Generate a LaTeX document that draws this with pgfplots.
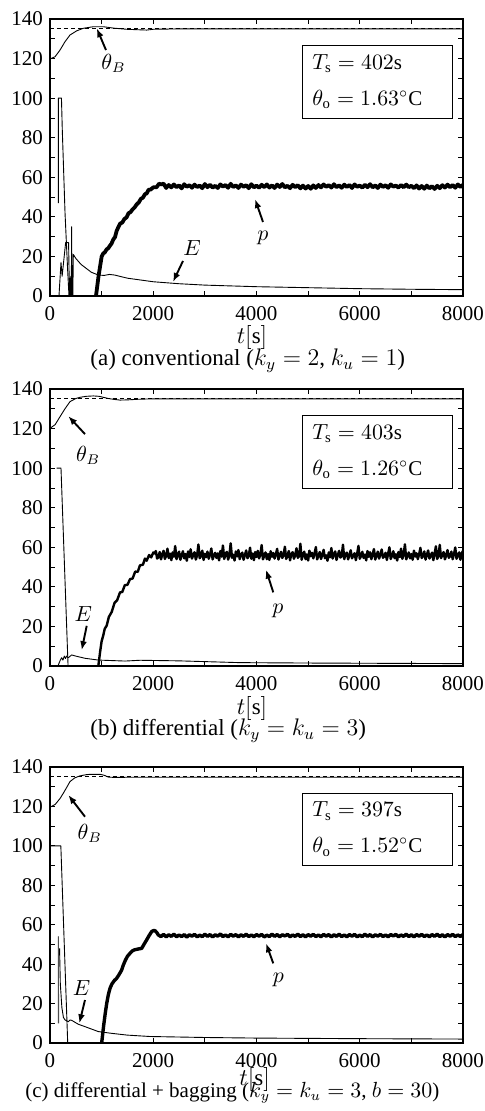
\documentclass[border=0pt]{standalone}
\usepackage{pgfplots}
\pgfplotsset{compat=1.18}
\usepackage{fontspec}
\setmainfont{Liberation Serif}
\usetikzlibrary{arrows.meta}
\newcommand{\fs}{\fontsize{10.5}{12.5}\selectfont}
\newcommand{\fc}{\fontsize{11.5}{13.5}\selectfont}
\pgfplotsset{panel/.style={
  scale only axis, width=206.5pt, height=138.5pt,
  xmin=0, xmax=8000, ymin=0, ymax=140,
  xtick={0,2000,4000,6000,8000}, ytick={0,20,...,140},
  minor x tick num=1, minor y tick num=1,
  tick align=inside, xtick pos=both, ytick pos=both,
  major tick length=2.5pt, minor tick length=2.5pt,
  axis line style={line width=1pt},
  tick style={line width=0.4pt, black},
  every tick label/.append style={font=\fs},
  /pgf/number format/assume math mode=true,
  /pgf/number format/1000 sep={},
  scaled x ticks=false,
  xticklabel style={yshift=-1.5pt},
  every axis plot/.append style={line join=round},
}}
\tikzset{
thin curve/.style={black, line width=0.45pt},
pcurve/.style={black, line width=1.9pt},
ref/.style={black, line width=0.45pt, dash pattern=on 2pt off 1.5pt},
ann/.style={line width=0.95pt, -{Latex[length=4.5pt,width=3.4pt]}},
}
\begin{document}
\begin{tikzpicture}
\path[use as bounding box] (0,0) rectangle (242pt,-555.5pt);

% ---------------- panel (a)
\begin{axis}[panel, at={(25pt,-148pt)}, anchor=south west]
\addplot[ref] coordinates {(0,135) (8000,135)};
\addplot[thin curve] coordinates {(0,119.8) (97,120.9) (194,124.3) (290,128.5) (387,131.9) (516,134) (645,135.3) (839,136.1) (1033,136.1) (1226,135.4) (1485,134.8) (1872,134.4) (2002,134.8) (2500,135) (8000,135)};
\addplot[thin curve] coordinates {(161,47) (161,100) (222,100) (238,84) (291,42) (342,13) (368,0) (8000,0)};
\addplot[thin curve] coordinates {(174,0) (213,17) (235,10) (303,27) (360,27) (372,8) (380,0) (388,9) (396,0) (404,10) (412,0) (420,35) (426,0) (434,9) (442,0) (452,21) (500,19) (600,16) (700,14) (800,12) (936,10.6) (1050,10.4) (1150,10.9) (1250,10.6) (1500,9) (2000,7.2) (2500,6.2) (3000,5.5) (4000,4.7) (5000,4.2) (6000,3.7) (7000,3.4) (8000,3.2)};
\addplot[pcurve] coordinates {(891,0) (940,10) (1001,20) (1030,21.5) (1060,22) (1098,23.6) (1130,24.2) (1160,25.4) (1190,26.4) (1227,28.6) (1260,29.8) (1290,32.8) (1324,34.8) (1360,36.6) (1400,37.1) (1440,38.9) (1485,39.8) (1520,41.8) (1560,42.4) (1600,43.8) (1640,44.8) (1679,46.3) (1720,47.3) (1760,49.1) (1800,49.7) (1840,51.5) (1873,51.8) (1910,53.7) (1950,53.8) (2000,54.9) (2066,55.0) (2110,56.7) (2160,56.4)
(2200,56.8) (2250,54.6) (2300,56.1) (2350,54.9) (2400,56.4) (2450,55.0) (2500,55.9) (2550,54.4) (2600,56.5) (2650,55.2) (2700,56.0) (2750,54.7) (2800,56.3) (2850,55.1) (2900,55.8) (2950,54.5) (3000,56.6) (3050,55.0) (3100,56.2) (3150,54.8) (3200,55.7) (3250,54.6) (3300,56.4) (3350,55.3) (3400,56.1) (3450,54.7) (3500,56.7) (3550,55.1) (3600,55.9) (3650,54.6) (3700,56.3) (3750,55.2) (3800,56.0) (3850,54.5) (3900,56.5) (3950,54.9) (4000,55.8) (4050,54.7) (4100,56.2) (4150,55.0) (4200,56.4) (4250,54.8) (4300,55.9) (4350,54.6) (4400,56.3) (4450,55.1) (4500,56.6) (4550,54.9) (4600,55.7) (4650,54.5) (4700,56.2) (4750,55.0) (4800,56.0) (4850,54.4) (4900,55.8) (4950,54.3) (5000,55.6) (5050,54.2) (5100,55.9) (5150,54.6) (5200,56.1) (5250,54.9) (5300,56.4) (5350,55.2) (5400,56.0) (5450,54.8) (5500,56.5) (5550,55.0) (5600,55.9) (5650,54.7) (5700,56.3) (5750,55.1) (5800,56.1) (5850,54.6) (5900,56.4) (5950,55.2) (6000,55.8) (6050,54.8) (6100,56.2) (6150,55.0) (6200,56.5) (6250,54.9) (6300,55.9) (6350,54.6) (6400,56.3) (6450,55.1) (6500,56.0) (6550,54.7) (6600,56.4) (6650,55.3) (6700,55.8) (6750,54.8) (6800,56.1) (6850,54.9) (6900,56.3) (6950,55.0) (7000,55.7) (7050,54.5) (7100,55.9) (7150,54.3) (7200,55.6) (7250,54.2) (7300,55.8) (7350,54.4) (7400,55.5) (7450,54.1) (7500,55.7) (7550,54.5) (7600,56.0) (7650,54.8) (7700,56.3) (7750,55.0) (7800,56.1) (7850,54.7) (7900,56.4) (7950,55.1) (8000,56.2)};
\draw[ann] (axis cs:1085,124.3) -- (axis cs:905,135.3);
\node[font=\fs] at (axis cs:1230,117.7) {$\theta_B$};
\draw[ann] (axis cs:2576,17.7) -- (axis cs:2383,7.1);
\node[font=\fs] at (axis cs:2750,24.3) {$E$};
\draw[ann] (axis cs:4126,37.4) -- (axis cs:3971,49);
\node[font=\fs] at (axis cs:4126,29.3) {$p$};
\draw[line width=0.5pt] (axis cs:4900,126.8) rectangle (axis cs:7787,89.9);
\node[font=\fs, anchor=west, inner sep=0pt] at (axis cs:5075,117.6) {$T_{\mathrm{s}} = 402\mathrm{s}$};
\node[font=\fs, anchor=west, inner sep=0pt] at (axis cs:5075,99.5) {$\theta_{\mathrm{o}} = 1.63^\circ\mathrm{C}$};
\end{axis}
\node[font=\fc] at (126pt,-169pt) {$t[\mathrm{s}]$};
\node[font=\fc, anchor=west, inner sep=0pt] at (45pt,-180.5pt) {(a) conventional ($k_y = 2$, $k_u = 1$)};

% ---------------- panel (b)
\begin{axis}[panel, at={(25pt,-333pt)}, anchor=south west]
\addplot[ref] coordinates {(0,135) (8000,135)};
\addplot[thin curve] coordinates {(0,120.1) (100,122) (194,126) (290,130) (387,133.6) (500,135.2) (581,135.8) (700,136.3) (839,136.5) (950,136.3) (1033,135.8) (1130,135.2) (1226,134.8) (1356,134.4) (1500,134.5) (1700,134.8) (1937,135) (8000,135)};
\addplot[thin curve] coordinates {(130,100) (213,100) (350,0) (8000,0)};
\addplot[thin curve] coordinates {(161,0.5) (200,3) (226,4.2) (250,3.0) (278,5.0) (300,3.8) (323,5.0) (355,4.2) (420,5.6) (500,5.0) (678,3.9) (936,3.0) (1453,2.5) (1743,2.9) (2500,2.6) (3680,1.7) (5000,1.5) (8000,1.2)};
\addplot[pcurve, line width=1.2pt] coordinates {(936,0) (970,7) (1000,12.5) (1033,15.6) (1060,18.8) (1098,20.4) (1140,24.8) (1195,27.3) (1250,31.9) (1300,33.2) (1356,37.2) (1400,37.4) (1450,40.9) (1500,41.0) (1550,43.9) (1600,44.2) (1650,47.7) (1700,47.6) (1743,50.9) (1800,51.2) (1840,54.3) (1872,53.2) (1920,56.1) (1960,54.9) (2002,57.4)
(2025,56.9) (2050,58.1) (2075,54.3) (2100,55.0) (2125,57.6) (2150,53.9) (2175,56.4) (2200,58.2) (2225,54.1) (2250,55.7) (2275,59.3) (2300,54.6) (2325,56.8) (2350,53.5) (2375,57.4) (2400,55.2) (2425,60.6) (2450,54.0) (2475,56.1) (2500,57.8) (2525,53.7) (2550,55.9) (2575,58.0) (2600,54.4) (2625,56.6) (2650,53.2) (2675,57.9) (2700,55.1) (2725,59.0) (2750,54.3) (2775,56.2) (2800,57.5) (2825,53.8) (2850,56.0) (2875,61.4) (2900,54.5) (2925,55.6) (2950,58.3) (2975,53.6) (3000,56.7) (3025,55.0) (3050,57.8) (3075,54.2) (3100,56.3) (3125,59.4) (3150,53.9) (3175,55.8) (3200,57.2) (3225,54.6) (3250,56.9) (3275,53.4) (3300,58.1) (3325,55.3) (3350,60.9) (3375,54.1) (3400,56.5) (3425,57.7) (3450,53.8) (3475,55.9) (3500,62.0) (3525,54.7) (3550,56.2) (3575,53.3) (3600,57.9) (3625,55.4) (3650,58.6) (3675,54.0) (3700,56.4) (3725,57.3) (3750,53.7) (3775,56.0) (3800,58.4) (3825,54.5) (3850,55.7) (3875,59.8) (3900,54.2) (3925,56.8) (3950,53.5) (3975,57.6) (4000,55.1) (4025,58.2) (4050,54.4) (4075,56.3) (4100,61.1) (4125,53.9) (4150,55.8) (4175,57.4) (4200,54.0) (4225,56.6) (4250,53.6) (4275,58.0) (4300,55.2) (4325,57.1) (4350,54.3) (4375,56.5) (4400,59.2) (4425,53.8) (4450,55.9) (4475,57.7) (4500,54.6) (4525,56.1) (4550,60.3) (4575,54.1) (4600,55.6) (4625,58.1) (4650,53.4) (4675,56.7) (4700,57.5) (4725,54.2) (4750,56.0) (4775,59.5) (4800,54.7) (4825,55.4) (4850,61.8) (4875,53.7) (4900,56.3) (4925,57.8) (4950,54.0) (4975,56.4) (5000,53.3) (5025,58.3) (5050,55.5) (5075,57.2) (5100,54.4) (5125,56.9) (5150,60.1) (5175,53.9) (5200,55.7) (5225,57.6) (5250,54.1) (5275,56.2) (5300,58.7) (5325,54.5) (5350,55.9) (5375,53.2) (5400,57.4) (5425,55.0) (5450,59.6) (5475,54.3) (5500,56.5) (5525,57.9) (5550,53.6) (5575,56.1) (5600,58.2) (5625,54.8) (5650,55.5) (5675,61.3) (5700,54.0) (5725,56.6) (5750,57.3) (5775,53.9) (5800,56.0) (5825,58.5) (5850,54.4) (5875,55.8) (5900,57.0) (5925,53.5) (5950,56.7) (5975,60.7) (6000,54.2) (6025,55.6) (6050,57.7) (6075,54.6) (6100,56.3) (6125,53.4) (6150,58.1) (6175,55.2) (6200,57.5) (6225,54.0) (6250,56.4) (6275,59.1) (6300,53.8) (6325,55.9) (6350,57.8) (6375,54.3) (6400,56.2) (6425,58.9) (6450,54.7) (6475,55.4) (6500,57.2) (6525,53.6) (6550,56.8) (6575,60.0) (6600,54.1) (6625,55.7) (6650,58.0) (6675,54.5) (6700,56.5) (6725,53.3) (6750,57.6) (6775,55.1) (6800,59.3) (6825,54.2) (6850,56.1) (6875,61.5) (6900,53.9) (6925,55.8) (6950,57.4) (6975,54.4) (7000,56.6) (7025,53.7) (7050,58.3) (7075,55.3) (7100,57.0) (7125,54.0) (7150,56.4) (7175,59.7) (7200,54.6) (7225,55.5) (7250,57.9) (7275,53.8) (7300,56.2) (7325,58.4) (7350,54.3) (7375,55.9) (7400,57.3) (7425,53.5) (7450,56.7) (7475,60.5) (7500,54.1) (7525,55.6) (7550,61.2) (7575,54.5) (7600,56.3) (7625,57.6) (7650,53.9) (7675,56.0) (7700,58.6) (7725,54.7) (7750,55.4) (7775,57.8) (7800,54.0) (7825,56.5) (7850,59.9) (7875,54.2) (7900,55.8) (7925,57.4) (7950,53.7) (7975,56.9) (8000,58.2)};
\draw[ann] (axis cs:678,117.2) -- (axis cs:354,126.3);
\node[font=\fs] at (axis cs:740,106.5) {$\theta_B$};
\draw[ann] (axis cs:711,20.3) -- (axis cs:614,8);
\node[font=\fs] at (axis cs:645,26.2) {$E$};
\draw[ann] (axis cs:4325,37.2) -- (axis cs:4184,48.7);
\node[font=\fs] at (axis cs:4416,27.9) {$p$};
\draw[line width=0.5pt] (axis cs:4900,126.8) rectangle (axis cs:7787,89.9);
\node[font=\fs, anchor=west, inner sep=0pt] at (axis cs:5075,117.6) {$T_{\mathrm{s}} = 403\mathrm{s}$};
\node[font=\fs, anchor=west, inner sep=0pt] at (axis cs:5075,99.5) {$\theta_{\mathrm{o}} = 1.26^\circ\mathrm{C}$};
\end{axis}
\node[font=\fc] at (126pt,-354pt) {$t[\mathrm{s}]$};
\node[font=\fc, anchor=west, inner sep=0pt] at (45pt,-365.5pt) {(b) differential ($k_y = k_u = 3$)};

% ---------------- panel (c)
\begin{axis}[panel, height=138pt, at={(25pt,-521.5pt)}, anchor=south west]
\addplot[ref] coordinates {(0,135) (8000,135)};
\addplot[thin curve] coordinates {(0,119.6) (100,121) (194,124) (258,126.7) (320,129.5) (387,132.6) (480,134.5) (581,135.5) (700,136.1) (775,136.3) (968,136.3) (1050,135.8) (1130,134.9) (1250,134.7) (1500,134.8) (8000,134.8)};
\addplot[thin curve] coordinates {(0,100) (210,100) (343,0) (8000,0)};
\addplot[thin curve, black!70] coordinates {(161,10) (161,54) (168,10)};
\addplot[thin curve] coordinates {(185,48) (200,30) (230,18) (260,13) (291,11.7) (355,10.8) (387,11.7) (420,11.5) (550,9.5) (678,8.3) (936,5.8) (1195,4.9) (1500,4.0) (1937,3.3) (3000,2.8) (4000,2.5) (6000,2.2) (8000,2.0)};
\addplot[pcurve, line width=1.7pt] coordinates {(1001,0) (1040,9) (1070,15) (1098,20) (1130,24.5) (1162,27.7) (1200,30) (1250,31.8) (1291,32.8) (1340,34.8) (1388,37) (1420,39.5) (1460,42) (1500,44) (1550,45.5) (1600,46.8) (1640,47.3) (1679,47.5) (1730,47.8) (1776,48) (1820,50) (1872,52.3) (1920,54.5) (1969,56.5) (2000,57) (2034,57) (2070,56) (2098,54.8)
(2150,54.0) (2200,55.1) (2250,53.8) (2300,54.9) (2350,54.1) (2400,55.2) (2450,53.9) (2500,54.8) (2550,54.0) (2600,55.0) (2650,53.7) (2700,54.9) (2750,54.2) (2800,55.1) (2850,53.9) (2900,54.7) (2950,54.0) (3000,55.2) (3050,54.1) (3100,55.0) (3150,53.8) (3200,54.9) (3250,54.2) (3300,55.3) (3350,54.0) (3400,54.8) (3450,53.9) (3500,55.1) (3550,54.2) (3600,55.0) (3650,53.8) (3700,54.9) (3750,54.1) (3800,55.2) (3850,54.0) (3900,54.8) (3950,53.9) (4000,55.0) (4050,54.2) (4100,55.1) (4150,53.8) (4200,54.7) (4250,54.0) (4300,55.2) (4350,54.1) (4400,55.0) (4450,53.9) (4500,54.9) (4550,54.3) (4600,55.1) (4650,53.9) (4700,54.8) (4750,54.1) (4800,55.2) (4850,54.0) (4900,54.9) (4950,53.8) (5000,55.0) (5050,54.2) (5100,55.1) (5150,54.0) (5200,54.8) (5250,53.9) (5300,55.1) (5350,54.2) (5400,55.0) (5450,53.8) (5500,54.9) (5550,54.1) (5600,55.2) (5650,54.0) (5700,54.8) (5750,53.9) (5800,55.0) (5850,54.2) (5900,55.1) (5950,53.9) (6000,54.7) (6050,54.0) (6100,55.2) (6150,54.1) (6200,55.0) (6250,53.8) (6300,54.9) (6350,54.2) (6400,55.1) (6450,54.0) (6500,54.8) (6550,53.9) (6600,55.0) (6650,54.3) (6700,55.1) (6750,53.9) (6800,54.8) (6850,54.1) (6900,55.2) (6950,54.0) (7000,54.9) (7050,53.8) (7100,55.0) (7150,54.2) (7200,55.1) (7250,54.0) (7300,54.8) (7350,53.9) (7400,55.0) (7450,54.1) (7500,55.2) (7550,54.0) (7600,54.9) (7650,53.8) (7700,55.0) (7750,54.2) (7800,55.1) (7850,54.0) (7900,54.8) (7950,54.1) (8000,55.0)};
\draw[ann] (axis cs:678,114.8) -- (axis cs:354,125.8);
\node[font=\fs] at (axis cs:770,106.4) {$\theta_B$};
\draw[ann] (axis cs:678,21.8) -- (axis cs:568,10);
\node[font=\fs] at (axis cs:614,27.8) {$E$};
\draw[ann] (axis cs:4325,40.4) -- (axis cs:4184,50.6);
\node[font=\fs] at (axis cs:4422,32) {$p$};
\draw[line width=0.5pt] (axis cs:4900,126.8) rectangle (axis cs:7787,89.9);
\node[font=\fs, anchor=west, inner sep=0pt] at (axis cs:5075,117.6) {$T_{\mathrm{s}} = 397\mathrm{s}$};
\node[font=\fs, anchor=west, inner sep=0pt] at (axis cs:5075,99.5) {$\theta_{\mathrm{o}} = 1.52^\circ\mathrm{C}$};
\end{axis}
\node[font=\fc] at (127.3pt,-539.5pt) {$t[\mathrm{s}]$};
\node[font=\fs, anchor=west, inner sep=0pt] at (12.5pt,-546.5pt) {(c) differential + bagging ($k_y = k_u = 3$, $b = 30$)};
\end{tikzpicture}
\end{document}
